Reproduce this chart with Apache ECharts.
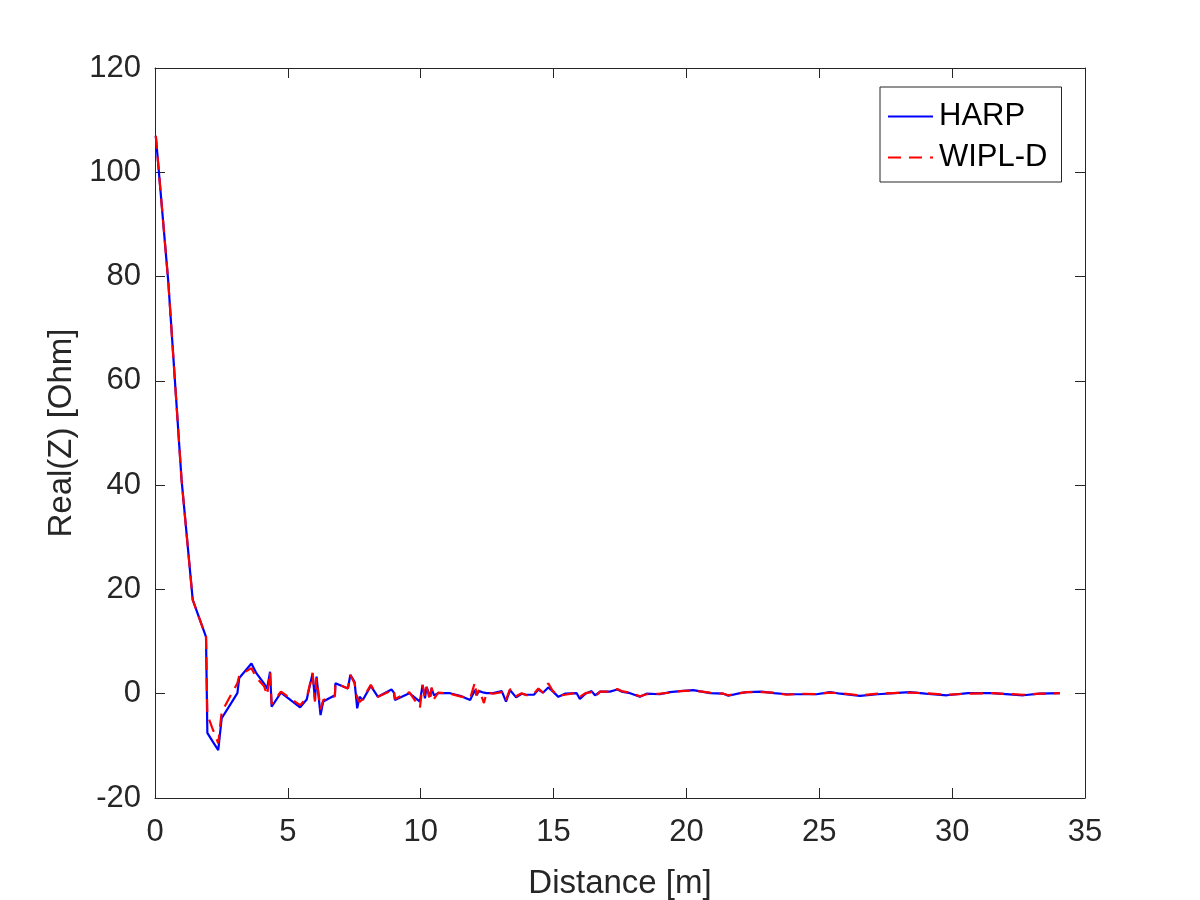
<!DOCTYPE html>
<html>
<head>
<meta charset="utf-8">
<script src="https://cdn.jsdelivr.net/npm/echarts@6/dist/echarts.min.js"></script>
<style>
  html, body { margin: 0; padding: 0; background: #fff; }
</style>
</head>
<body>
<div id="main" style="width:1200px;height:900px;"></div>
<script>
// distance [m] and Real(Z) [Ohm]
var distance = [0.03, 0.5, 1.0, 1.42, 1.92, 1.97, 2.15, 2.38, 2.51, 2.82, 3.1, 3.17, 3.63, 3.82, 4.1, 4.22, 4.33, 4.39, 4.74, 5.46,
  5.71, 5.93, 6.02, 6.08, 6.23, 6.33, 6.77, 6.79, 7.26, 7.35, 7.51, 7.61, 7.7, 7.82, 8.12, 8.39, 8.9, 8.99, 9.03, 9.57,
  9.97, 10.07, 10.16, 10.22, 10.35, 10.41, 10.5, 10.66, 11.1, 11.48, 11.86, 12.04, 12.1, 12.2, 12.38, 12.48, 12.73, 13.05, 13.21, 13.36,
  13.59, 13.8, 13.98, 14.26, 14.43, 14.6, 14.8, 14.96, 15.18, 15.43, 15.87, 15.99, 16.2, 16.43, 16.56, 16.75, 17.12, 17.4, 17.56, 17.88,
  18.25, 18.5, 19.0, 19.38, 19.76, 20.26, 20.89, 21.39, 21.58, 22.02, 22.27, 22.83, 23.3, 23.77, 24.3, 24.9, 25.4, 25.8, 26.53, 27.2,
  28.1, 28.41, 29.0, 29.8, 30.6, 31.5, 32.68, 33.3, 34.06];

var harp = [107, 79, 41, 18, 10.9, -7.5, -9.0, -10.8, -4.7, -2.2, 0.1, 3.0, 5.8, 3.9, 2.0, 1.0, 4.2, -2.5, 0.2, -2.6,
  -1.1, 3.9, -1.2, 3.3, -4.1, -1.5, -0.3, 2.0, 1.0, 3.6, 2.3, -2.8, -0.6, -1.2, 1.5, -0.6, 0.8, 0.2, -1.2, 0.1,
  -1.5, 1.7, -0.9, 1.3, -0.6, 1.0, -0.3, 0.1, 0.1, -0.4, -1.2, 0.7, -0.3, 0.5, 0.2, 0.1, 0.1, 0.5, -1.5, 0.7,
  -0.7, 0.0, -0.2, -0.2, 0.8, 0.2, 1.2, 0.5, -0.6, 0.0, 0.1, -1.0, 0.0, 0.5, -0.3, 0.4, 0.4, 0.8, 0.4, 0.1,
  -0.6, 0.0, -0.1, 0.3, 0.5, 0.7, 0.1, 0.0, -0.4, 0.1, 0.3, 0.4, 0.1, -0.1, -0.1, -0.1, 0.3, 0.0, -0.4, -0.1,
  0.2, 0.3, 0.0, -0.3, 0.1, 0.1, -0.3, 0.0, 0.1];

var wipl = [107, 79, 41, 18, 10.9, -4.0, -6.5, -9.5, -3.5, -0.6, 2.0, 3.5, 4.9, 3.0, 1.5, -0.3, 4.2, -2.0, 0.4, -2.2,
  -0.8, 4.0, -1.5, 3.0, -3.0, -1.2, -0.5, 2.0, 1.0, 3.6, 2.0, -0.8, -1.6, -1.0, 1.7, -0.6, 0.6, 0.8, -1.0, 0.3,
  -2.7, 1.7, -0.5, 1.3, -1.4, 1.2, -1.0, 0.2, 0.0, -0.5, -0.9, 2.2, -0.3, 0.8, -1.8, 0.3, 0.0, 0.3, -1.2, 0.9,
  -0.5, 0.1, -0.3, 0.0, 1.0, 0.2, 2.0, 0.6, -0.4, -0.2, 0.2, -0.6, 0.1, 0.3, -0.6, 0.4, 0.4, 0.9, 0.5, 0.2,
  -0.5, -0.1, 0.0, 0.2, 0.5, 0.6, 0.2, 0.0, -0.3, 0.1, 0.3, 0.3, 0.2, -0.2, 0.0, -0.1, 0.2, 0.1, -0.3, 0.0,
  0.2, 0.2, 0.1, -0.2, 0.0, 0.1, -0.2, 0.0, 0.1];

function pairs(xs, ys) {
  return xs.map(function (x, i) { return [x, ys[i]]; });
}

var axisColor = '#262626';
var font = 'Liberation Sans, Arial, Helvetica, sans-serif';

var chart = echarts.init(document.getElementById('main'));
chart.setOption({
  animation: false,
  backgroundColor: '#fff',
  grid: { left: 155, top: 68, width: 930, height: 730, containLabel: false, outerBoundsMode: 'none' },
  legend: {
    orient: 'vertical',
    left: 880,
    top: 87,
    padding: [14, 14, 9, 7],
    itemGap: 10,
    itemWidth: 45,
    itemHeight: 14,
    itemStyle: { opacity: 0 },
    borderColor: '#262626',
    borderWidth: 1,
    backgroundColor: '#fff',
    textStyle: { fontSize: 31, color: '#000', fontFamily: font, padding: [0, 0, 0, 1] },
    data: ['HARP', 'WIPL-D']
  },
  xAxis: [{
    type: 'value', min: 0, max: 35, interval: 5,
    name: 'Distance [m]', nameLocation: 'middle', nameGap: 69,
    nameTextStyle: { fontSize: 33, color: axisColor, fontFamily: font },
    axisLine: { show: true, onZero: false, lineStyle: { color: axisColor, width: 1 } },
    axisTick: { show: true, inside: true, length: 10, lineStyle: { color: axisColor } },
    axisLabel: { fontSize: 31, color: axisColor, fontFamily: font, margin: 19 },
    splitLine: { show: false }
  }, {
    type: 'value', min: 0, max: 35, interval: 5, position: 'top',
    axisLine: { show: true, onZero: false, lineStyle: { color: axisColor, width: 1 } },
    axisTick: { show: true, inside: true, length: 10, lineStyle: { color: axisColor } },
    axisLabel: { show: false },
    splitLine: { show: false }
  }],
  yAxis: [{
    type: 'value', min: -20, max: 120, interval: 20,
    name: 'Real(Z) [Ohm]', nameLocation: 'middle', nameGap: 71,
    nameTextStyle: { fontSize: 33, color: axisColor, fontFamily: font },
    axisLine: { show: true, onZero: false, lineStyle: { color: axisColor, width: 1 } },
    axisTick: { show: true, inside: true, length: 10, lineStyle: { color: axisColor } },
    axisLabel: { fontSize: 31, color: axisColor, fontFamily: font, margin: 14 },
    splitLine: { show: false }
  }, {
    type: 'value', min: -20, max: 120, interval: 20, position: 'right',
    axisLine: { show: true, onZero: false, lineStyle: { color: axisColor, width: 1 } },
    axisTick: { show: true, inside: true, length: 10, lineStyle: { color: axisColor } },
    axisLabel: { show: false },
    splitLine: { show: false }
  }],
  series: [{
    name: 'HARP',
    type: 'line',
    data: pairs(distance, harp),
    symbol: 'none',
    color: '#0000ff',
    lineStyle: { color: '#0000ff', width: 2.2 }
  }, {
    name: 'WIPL-D',
    type: 'line',
    data: pairs(distance, wipl),
    symbol: 'none',
    color: '#ff0000',
    lineStyle: { color: '#ff0000', width: 2.2, type: [13, 8] }
  }]
});
</script>
</body>
</html>
